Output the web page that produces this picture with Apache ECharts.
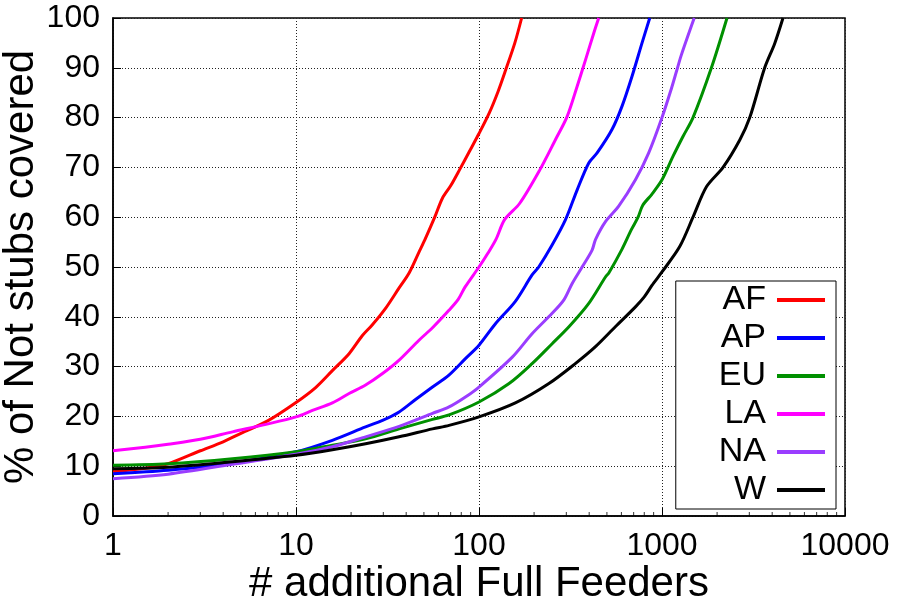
<!DOCTYPE html>
<html>
<head>
<meta charset="utf-8">
<script src="https://cdn.jsdelivr.net/npm/echarts@6/dist/echarts.min.js"></script>
<style>
  html, body { margin: 0; padding: 0; background: #fff; }
  #chart { width: 909px; height: 611px; }
</style>
</head>
<body>
<div id="chart"></div>
<script>
// Coverage curves: [additional full feeders, % of Not stubs covered]
const regionNames = ['AF', 'AP', 'EU', 'LA', 'NA', 'W'];
const regionColors = ['#ff0000', '#0000ff', '#009000', '#ff00ff', '#9a3dff', '#000000'];

const afData = [[1,8.9],[1.5,9.6],[2,10.5],[3,13.1],[4,14.9],[5,16.6],[7,19.1],[10,22.8],[12.8,25.8],[15.8,29.2],[19.5,32.6],[23,36.2],[26,38.3],[31,41.8],[36.6,45.8],[41.5,48.8],[47,53.0],[50.5,55.4],[57.3,60],[63.1,63.8],[70,66.3],[78.5,69.6],[88,73],[100,76.8],[114,81],[127,85.2],[140,89.6],[157,95],[171,100]];
const apData = [[1,8.5],[2,9.2],[4.5,10.6],[10,12.9],[15.8,15.2],[24,17.9],[29.7,19.2],[36.6,20.9],[45,23.4],[55.7,25.9],[68.5,28.3],[84.3,31.6],[100,34.3],[123,38.6],[158,43.1],[195,48.4],[212,50],[250,54.3],[297,59.5],[344,65.5],[398,70.9],[442,72.9],[533,77.6],[605,82.3],[686,88.3],[778,95],[857,100]];
const euData = [[1,10.2],[2,10.5],[4.5,11.5],[10,12.9],[15.8,14.2],[24,15.5],[36.6,17.5],[55.7,19.4],[68.6,20.3],[100,22.9],[146,26.6],[195,30.6],[251,34.6],[310,38],[398,42.7],[491,48],[512,48.8],[605,53.6],[680,57.5],[740,60],[785,62.4],[880,64.6],[1000,67.5],[1148,72.2],[1302,76.2],[1477,80],[1862,90],[2266,100]];
const laData = [[1,13.1],[1.5,13.8],[2,14.4],[3,15.4],[4.5,16.9],[6.85,18.4],[10,19.9],[12.3,21.2],[15.8,22.7],[19.5,24.6],[24,26.3],[29.7,28.6],[36.6,31.3],[47,35.3],[55.7,37.8],[68.5,41.3],[77,43.5],[84,46],[100,50],[112,52.8],[124,55.6],[138,59.5],[167,62.8],[215,69.5],[262,75.6],[303,80.2],[344,86.3],[382,91.6],[424,97],[451,100]];
const naData = [[1,7.5],[2,8.4],[4.5,10.4],[10,12.4],[15.8,13.9],[24,15.9],[36.6,18],[55.7,20.6],[68.6,21.9],[84.3,23.9],[100,25.9],[152,31.9],[195,36.6],[251,40.7],[291,43.4],[323,46.7],[366,50],[415,53.4],[433,55.5],[491,59.1],[580,62.2],[716,67.5],[846,72.9],[1000,80],[1125,85.8],[1198,89.2],[1276,92.6],[1500,100]];
const wData = [[1,9.5],[2,9.8],[4.5,10.9],[10,12.2],[15.8,13.3],[24,14.5],[36.6,15.9],[55.7,17.5],[68.6,18.2],[100,19.9],[158,22.7],[241,26.6],[336,30.6],[433,34],[556,38],[716,42],[800,44],[881,46.3],[1000,49],[1250,54.1],[1477,60],[1749,66.1],[2155,70],[2660,75.5],[3017,80],[3640,90],[4130,94.9],[4583,100]];

const regionData = [afData, apData, euData, laData, naData, wData];

// Log-axis minor tick positions (2..9 in each decade)
const minorMultipliers = [2, 3, 4, 5, 6, 7, 8, 9];
const decades = [1, 10, 100, 1000];
const minorTicks = [];
decades.forEach(d => minorMultipliers.forEach(m => minorTicks.push([m * d, 0])));

const FONT = '"Liberation Sans", Arial, Helvetica, sans-serif';

const chart = echarts.init(document.getElementById('chart'), null, { renderer: 'canvas' });

const lineSeries = regionNames.map((name, i) => ({
  name: name,
  type: 'line',
  data: regionData[i],
  showSymbol: false,
  symbol: 'none',
  smooth: 0.3,
  lineStyle: { color: regionColors[i], width: 3, join: 'round' },
  itemStyle: { color: regionColors[i] },
  z: 3 + i
}));

chart.setOption({
  animation: false,
  backgroundColor: '#fff',
  textStyle: { fontFamily: FONT },
  grid: {
    left: 113, right: 64, top: 18, bottom: 95,
    containLabel: false,
    outerBoundsMode: 'none',
    show: true, borderColor: '#000', borderWidth: 1.5, backgroundColor: 'transparent'
  },
  legend: {
    data: regionNames,
    orient: 'vertical',
    align: 'right',
    right: 73,
    top: 281,
    icon: 'rect',
    itemWidth: 48,
    itemHeight: 4,
    itemGap: 4,
    padding: [2, 11, 2, 43],
    backgroundColor: '#fff',
    borderColor: '#000',
    borderWidth: 1,
    selectedMode: false,
    textStyle: {
      fontFamily: FONT, fontSize: 34, color: '#000', lineHeight: 34,
      padding: [0, 6, 0, 0]
    }
  },
  xAxis: {
    type: 'log',
    logBase: 10,
    min: 1,
    max: 10000,
    name: '# additional Full Feeders',
    nameLocation: 'middle',
    nameGap: 47,
    nameMoveOverlap: false,
    nameTextStyle: { fontFamily: FONT, fontSize: 42, color: '#000' },
    axisLine: { show: true, lineStyle: { color: '#000', width: 1.5 } },
    axisTick: { show: true, inside: true, length: 8, lineStyle: { color: '#000', width: 1 } },
    axisLabel: {
      fontFamily: FONT, fontSize: 32, color: '#000', margin: 14,
      formatter: v => String(Math.round(v))
    },
    splitLine: { show: true, lineStyle: { color: '#222', width: 1, type: [1, 2] } },
    minorTick: { show: false },
    minorSplitLine: { show: false }
  },
  yAxis: {
    type: 'value',
    min: 0,
    max: 100,
    interval: 10,
    name: '% of Not stubs covered',
    nameLocation: 'middle',
    nameGap: 71,
    nameMoveOverlap: false,
    nameRotate: 90,
    nameTextStyle: { fontFamily: FONT, fontSize: 42, color: '#000' },
    axisLine: { show: true, lineStyle: { color: '#000', width: 1.5 } },
    axisTick: { show: true, inside: true, length: 8, lineStyle: { color: '#000', width: 1 } },
    axisLabel: { fontFamily: FONT, fontSize: 32, color: '#000', margin: 13 },
    splitLine: { show: true, lineStyle: { color: '#222', width: 1, type: [1, 2] } }
  },
  series: [
    {
      name: 'minor-ticks',
      type: 'scatter',
      data: minorTicks,
      symbol: 'rect',
      symbolSize: [1, 4],
      symbolOffset: [0, -2],
      itemStyle: { color: '#000' },
      silent: true,
      clip: false,
      z: 2
    }
  ].concat(lineSeries)
});
</script>
</body>
</html>
